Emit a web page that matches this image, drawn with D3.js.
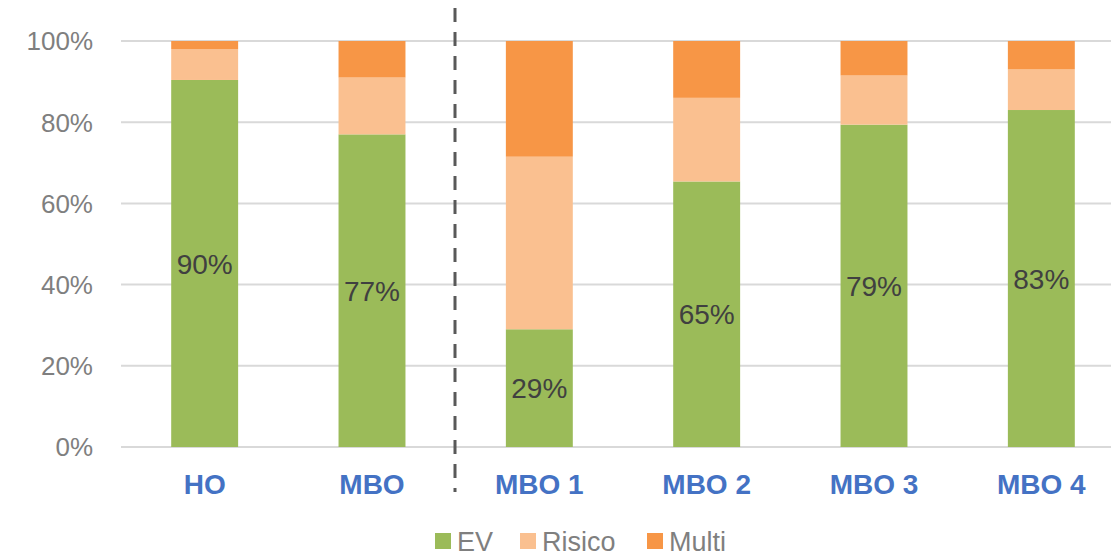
<!DOCTYPE html>
<html>
<head>
<meta charset="utf-8">
<script src="https://cdn.jsdelivr.net/npm/d3@7"></script>
<style>
body { margin: 0; background: #fff; }
text { font-family: "Liberation Sans", Arial, sans-serif; }
</style>
</head>
<body>
<script>
var width = 1111,
    height = 557;

var categories = ["HO", "MBO", "MBO 1", "MBO 2", "MBO 3", "MBO 4"];
var ev = [90.4, 77, 29, 65.4, 79.4, 83];
var risico = [7.6, 14, 42.5, 20.6, 12.1, 10];
var multi = [2, 9, 28.5, 14, 8.5, 7];
var seriesNames = ["EV", "Risico", "Multi"];
var yTicks = [0, 20, 40, 60, 80, 100];

var colors = {EV: "#9bbb59", Risico: "#fac090", Multi: "#f79646"};

var rows = categories.map(function(c, i) {
    return {cat: c, EV: ev[i], Risico: risico[i], Multi: multi[i]};
});

var svg = d3.select("body")
    .append("svg")
    .attr("width", width)
    .attr("height", height);

var x = d3.scaleBand()
    .domain(categories)
    .range([121, 1125])
    .paddingInner(0.6)
    .paddingOuter(0.3);

var y = d3.scaleLinear()
    .domain([0, 100])
    .range([447, 41]);

// gridlines
svg.append("g")
    .selectAll("line")
    .data(yTicks)
    .enter().append("line")
    .attr("x1", 121)
    .attr("x2", 1111)
    .attr("y1", function(d) { return y(d); })
    .attr("y2", function(d) { return y(d); })
    .attr("stroke", "#d9d9d9")
    .attr("stroke-width", 2);

// y axis labels
svg.append("g")
    .selectAll("text")
    .data(yTicks)
    .enter().append("text")
    .attr("x", 93)
    .attr("y", function(d) { return y(d); })
    .attr("dy", "0.36em")
    .attr("text-anchor", "end")
    .attr("fill", "#7f7f7f")
    .style("font-size", "26px")
    .text(function(d) { return d + "%"; });

var stack = d3.stack().keys(seriesNames);
var layers = stack(rows);

svg.append("g")
    .selectAll("g")
    .data(layers)
    .enter().append("g")
    .attr("fill", function(d) { return colors[d.key]; })
    .selectAll("rect")
    .data(function(d) { return d; })
    .enter().append("rect")
    .attr("x", function(d) { return x(d.data.cat); })
    .attr("width", x.bandwidth())
    .attr("y", function(d) { return y(d[1]); })
    .attr("height", function(d) { return y(d[0]) - y(d[1]); });

// EV labels
svg.append("g")
    .selectAll("text")
    .data(rows)
    .enter().append("text")
    .attr("x", function(d) { return x(d.cat) + x.bandwidth() / 2; })
    .attr("y", function(d) { return y(d.EV / 2); })
    .attr("dy", "0.36em")
    .attr("text-anchor", "middle")
    .attr("fill", "#404040")
    .style("font-size", "28px")
    .text(function(d) { return Math.round(d.EV) + "%"; });

// category labels
svg.append("g")
    .selectAll("text")
    .data(categories)
    .enter().append("text")
    .attr("x", function(d) { return x(d) + x.bandwidth() / 2; })
    .attr("y", 484)
    .attr("dy", "0.36em")
    .attr("text-anchor", "middle")
    .attr("fill", "#4472c4")
    .style("font-size", "28px")
    .style("font-weight", "bold")
    .text(function(d) { return d; });

// divider
svg.append("line")
    .attr("x1", 455).attr("x2", 455)
    .attr("y1", 8).attr("y2", 492)
    .attr("stroke", "#595959")
    .attr("stroke-width", 3)
    .attr("stroke-dasharray", "14,10");

// legend
var legendX = [435, 520, 647];
var legend = svg.append("g")
    .selectAll("g")
    .data(seriesNames)
    .enter().append("g")
    .attr("transform", function(d, i) { return "translate(" + legendX[i] + ",533)"; });

legend.append("rect")
    .attr("width", 16)
    .attr("height", 16)
    .attr("fill", function(d) { return colors[d]; });

legend.append("text")
    .attr("x", 22)
    .attr("y", 8)
    .attr("dy", "0.36em")
    .attr("fill", "#7f7f7f")
    .style("font-size", "27px")
    .text(function(d) { return d; });
</script>
</body>
</html>
